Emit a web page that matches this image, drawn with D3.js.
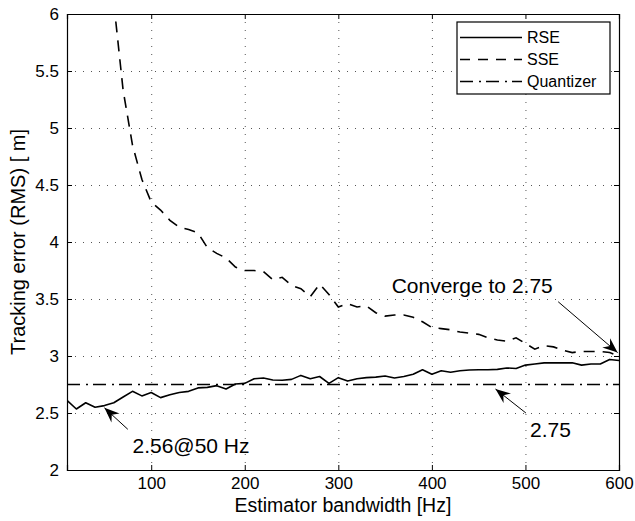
<!DOCTYPE html>
<html>
<head>
<meta charset="utf-8">
<script src="https://cdn.jsdelivr.net/npm/d3@7"></script>
<style>
  body { margin: 0; background: #fff; }
  text { font-family: "Liberation Sans", Arial, Helvetica, sans-serif; fill: #000; }
</style>
</head>
<body>
<div id="chart"></div>
<script>
// estimator bandwidth [Hz]
var bandwidth = [10, 20, 30, 40, 50, 60, 70, 80, 90, 100,
    110, 120, 130, 140, 150, 160, 170, 180, 190, 200,
    210, 220, 230, 240, 250, 260, 270, 280, 290, 300,
    310, 320, 330, 340, 350, 360, 370, 380, 390, 400,
    410, 420, 430, 440, 450, 460, 470, 480, 490, 500,
    510, 520, 530, 540, 550, 560, 570, 580, 590, 600];

var rse = [2.61, 2.535, 2.59, 2.55, 2.565, 2.59, 2.64, 2.69, 2.65, 2.68,
    2.635, 2.66, 2.68, 2.69, 2.72, 2.725, 2.74, 2.71, 2.755, 2.76,
    2.80, 2.807, 2.79, 2.787, 2.795, 2.83, 2.80, 2.82, 2.76, 2.81,
    2.78, 2.80, 2.81, 2.815, 2.825, 2.807, 2.82, 2.84, 2.88, 2.84,
    2.87, 2.857, 2.87, 2.877, 2.88, 2.88, 2.883, 2.895, 2.89, 2.92,
    2.93, 2.94, 2.94, 2.94, 2.94, 2.92, 2.93, 2.93, 2.97, 2.96];

// SSE only visible from 60 Hz up (above the axis before that)
var sseBandwidth = bandwidth.slice(5);
var sse = [6.1, 5.33, 4.85, 4.55, 4.35,
    4.28, 4.19, 4.13, 4.11, 4.08, 3.95, 3.90, 3.86, 3.78, 3.75,
    3.75, 3.74, 3.67, 3.69, 3.62, 3.59, 3.52, 3.63, 3.54, 3.43,
    3.46, 3.43, 3.44, 3.38, 3.35, 3.36, 3.36, 3.34, 3.30, 3.25,
    3.24, 3.23, 3.21, 3.20, 3.19, 3.16, 3.14, 3.13, 3.16, 3.11,
    3.06, 3.09, 3.08, 3.05, 3.03, 3.04, 3.04, 3.04, 3.03, 3.00];

var quantizer = 2.75;

var xTicks = [100, 200, 300, 400, 500, 600];
var yTicks = [2, 2.5, 3, 3.5, 4, 4.5, 5, 5.5, 6];

var seriesNames = ["RSE", "SSE", "Quantizer"];

var svgWidth = 635;
var svgHeight = 521;

var margin = {
    top: 14,
    right: 16,
    bottom: 51,
    left: 67
};

var width = svgWidth - margin.left - margin.right;
var height = svgHeight - margin.top - margin.bottom;

var svg = d3.select("#chart")
    .append("svg")
    .attr("width", svgWidth)
    .attr("height", svgHeight);

var defs = svg.append("defs");
defs.append("clipPath")
    .attr("id", "clip")
    .append("rect")
    .attr("width", width)
    .attr("height", height);
defs.append("marker")
    .attr("id", "head")
    .attr("viewBox", "-16 -7 18 14")
    .attr("refX", 0)
    .attr("refY", 0)
    .attr("markerWidth", 18)
    .attr("markerHeight", 14)
    .attr("markerUnits", "userSpaceOnUse")
    .attr("orient", "auto")
    .append("path")
    .attr("d", "M0,0 L-15,-6 L-10,0 L-15,6 Z")
    .attr("fill", "#000");

var chartGroup = svg.append("g")
    .attr("transform", `translate(${margin.left}, ${margin.top})`);

var xScale = d3.scaleLinear()
    .domain([10, 600])
    .range([0, width]);

var yScale = d3.scaleLinear()
    .domain([2, 6])
    .range([height, 0]);

// dotted grid
chartGroup.append("g")
    .selectAll("line")
    .data(xTicks.slice(0, -1))
    .enter()
    .append("line")
    .attr("x1", d => xScale(d) + 0.5)
    .attr("x2", d => xScale(d) + 0.5)
    .attr("y1", 0)
    .attr("y2", height)
    .attr("stroke", "#555")
    .attr("stroke-dasharray", "1,7");

chartGroup.append("g")
    .selectAll("line")
    .data(yTicks.slice(1, -1))
    .enter()
    .append("line")
    .attr("x1", 0)
    .attr("x2", width)
    .attr("y1", d => Math.round(yScale(d)) + 0.5)
    .attr("y2", d => Math.round(yScale(d)) + 0.5)
    .attr("stroke", "#555")
    .attr("stroke-dasharray", "1,7");

// axes, matlab style ticks pointing inward on all sides
var bottomAxis = d3.axisBottom(xScale).tickValues(xTicks).tickSize(-5).tickPadding(7);
var leftAxis = d3.axisLeft(yScale).tickValues(yTicks).tickSize(-5).tickPadding(8)
    .tickFormat(d => String(d));
var topAxis = d3.axisTop(xScale).tickValues(xTicks).tickSize(-5).tickFormat("");
var rightAxis = d3.axisRight(yScale).tickValues(yTicks).tickSize(-5).tickFormat("");

chartGroup.append("g")
    .attr("transform", `translate(0, ${height})`)
    .call(bottomAxis);
chartGroup.append("g")
    .call(leftAxis);
chartGroup.append("g")
    .call(topAxis);
chartGroup.append("g")
    .attr("transform", `translate(${width}, 0)`)
    .call(rightAxis);

chartGroup.selectAll(".domain").attr("stroke", "#000").attr("stroke-width", 1.2);
chartGroup.selectAll(".tick line").attr("stroke", "#000");
chartGroup.selectAll(".tick text")
    .style("font-family", "'Liberation Sans', Arial, sans-serif")
    .style("font-size", "17px");

var line = d3.line()
    .x(d => xScale(d[0]))
    .y(d => yScale(d[1]));

var plot = chartGroup.append("g").attr("clip-path", "url(#clip)");

plot.append("path")
    .datum([[bandwidth[0], quantizer], [bandwidth[bandwidth.length - 1], quantizer]])
    .attr("d", line)
    .attr("fill", "none")
    .attr("stroke", "#000")
    .attr("stroke-width", 1.4)
    .attr("stroke-dasharray", "13,6,2,5");

plot.append("path")
    .datum(d3.zip(sseBandwidth, sse))
    .attr("d", line)
    .attr("fill", "none")
    .attr("stroke", "#000")
    .attr("stroke-width", 1.6)
    .attr("stroke-dasharray", "11,8");

plot.append("path")
    .datum(d3.zip(bandwidth, rse))
    .attr("d", line)
    .attr("fill", "none")
    .attr("stroke", "#000")
    .attr("stroke-width", 1.6)
    .attr("stroke-linejoin", "round");

// legend
var legend = chartGroup.append("g")
    .attr("transform", `translate(${width - 162}, 8)`);
legend.append("rect")
    .attr("width", 153)
    .attr("height", 72)
    .attr("fill", "#fff")
    .attr("stroke", "#000")
    .attr("stroke-width", 1.2);
var dashes = [null, "10,8", "13,6,2,5"];
seriesNames.forEach(function(name, i) {
    var y = 15.5 + i * 22;
    legend.append("line")
        .attr("x1", 3)
        .attr("x2", 65)
        .attr("y1", y)
        .attr("y2", y)
        .attr("stroke", "#000")
        .attr("stroke-width", 1.4)
        .attr("stroke-dasharray", dashes[i]);
    legend.append("text")
        .attr("x", 70)
        .attr("y", y + 5.5)
        .style("font-size", "16px")
        .text(name);
});

// annotations, in data units
var notes = [
    {text: "2.56@50 Hz", tx: 80, ty: 2.15, from: [75, 2.357], to: [50, 2.545]},
    {text: "2.75", tx: 505, ty: 2.29, from: [500.5, 2.50], to: [468, 2.71]},
    {text: "Converge to 2.75", tx: 357, ty: 3.553, from: [535, 3.476], to: [598.5, 3.03]}
];
notes.forEach(function(n) {
    chartGroup.append("line")
        .attr("x1", xScale(n.from[0]))
        .attr("y1", yScale(n.from[1]))
        .attr("x2", xScale(n.to[0]))
        .attr("y2", yScale(n.to[1]))
        .attr("stroke", "#000")
        .attr("stroke-width", 1)
        .attr("marker-end", "url(#head)");
    chartGroup.append("text")
        .attr("x", xScale(n.tx))
        .attr("y", yScale(n.ty))
        .style("font-size", "21px")
        .text(n.text);
});

// axis titles
svg.append("text")
    .attr("x", margin.left + width / 2)
    .attr("y", 512)
    .attr("text-anchor", "middle")
    .style("font-size", "19.5px")
    .text("Estimator bandwidth [Hz]");

svg.append("text")
    .attr("transform", "rotate(-90)")
    .attr("x", -(margin.top + height / 2))
    .attr("y", 25)
    .attr("text-anchor", "middle")
    .style("font-size", "20px")
    .text("Tracking error (RMS) [ m]");
</script>
</body>
</html>
